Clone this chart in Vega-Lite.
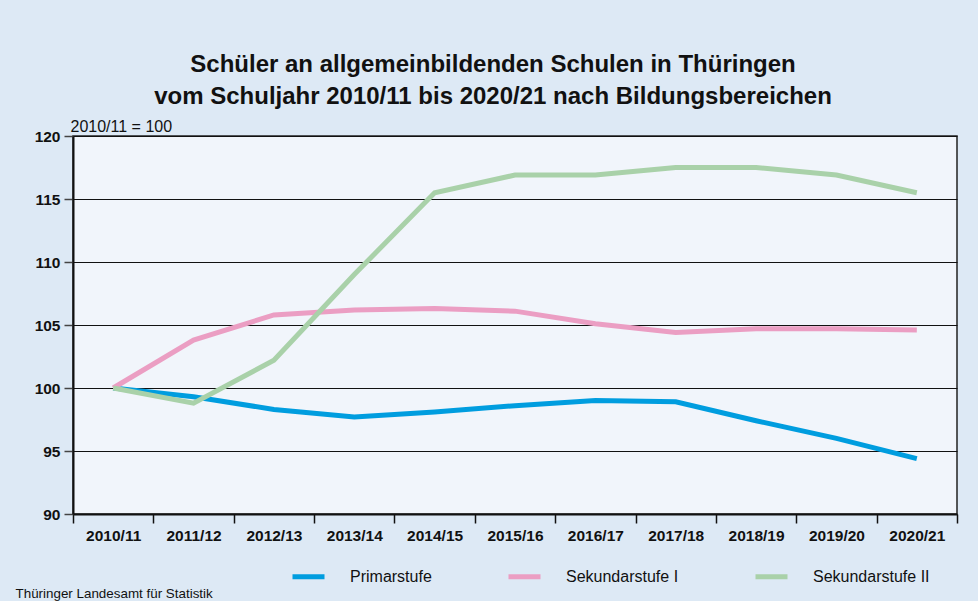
{
  "$schema": "https://vega.github.io/schema/vega-lite/v6.json",
  "width": 884,
  "height": 378,
  "autosize": {"type": "none"},
  "padding": {"left": 73, "top": 136, "right": 21, "bottom": 87},
  "background": "#dde9f5",
  "title": {
    "text": ["Schüler an allgemeinbildenden Schulen in Thüringen", "vom Schuljahr 2010/11 bis 2020/21 nach Bildungsbereichen"],
    "font": "Liberation Sans",
    "fontSize": 24,
    "fontWeight": "bold",
    "color": "#111111",
    "lineHeight": 32,
    "anchor": "middle",
    "dx": -22,
    "offset": 9
  },
  "config": {
    "view": {"fill": "#f1f5fb", "stroke": "#222222", "strokeWidth": 1.5},
    "font": "Liberation Sans"
  },
  "data": {
    "values": [
      {"jahr": "2010/11", "stufe": "Primarstufe", "wert": 100},
      {"jahr": "2011/12", "stufe": "Primarstufe", "wert": 99.3},
      {"jahr": "2012/13", "stufe": "Primarstufe", "wert": 98.3},
      {"jahr": "2013/14", "stufe": "Primarstufe", "wert": 97.7},
      {"jahr": "2014/15", "stufe": "Primarstufe", "wert": 98.1},
      {"jahr": "2015/16", "stufe": "Primarstufe", "wert": 98.6},
      {"jahr": "2016/17", "stufe": "Primarstufe", "wert": 99.0},
      {"jahr": "2017/18", "stufe": "Primarstufe", "wert": 98.9},
      {"jahr": "2018/19", "stufe": "Primarstufe", "wert": 97.4},
      {"jahr": "2019/20", "stufe": "Primarstufe", "wert": 96.0},
      {"jahr": "2020/21", "stufe": "Primarstufe", "wert": 94.4},
      {"jahr": "2010/11", "stufe": "Sekundarstufe I", "wert": 100},
      {"jahr": "2011/12", "stufe": "Sekundarstufe I", "wert": 103.8},
      {"jahr": "2012/13", "stufe": "Sekundarstufe I", "wert": 105.8},
      {"jahr": "2013/14", "stufe": "Sekundarstufe I", "wert": 106.2},
      {"jahr": "2014/15", "stufe": "Sekundarstufe I", "wert": 106.3},
      {"jahr": "2015/16", "stufe": "Sekundarstufe I", "wert": 106.1},
      {"jahr": "2016/17", "stufe": "Sekundarstufe I", "wert": 105.1},
      {"jahr": "2017/18", "stufe": "Sekundarstufe I", "wert": 104.4},
      {"jahr": "2018/19", "stufe": "Sekundarstufe I", "wert": 104.7},
      {"jahr": "2019/20", "stufe": "Sekundarstufe I", "wert": 104.7},
      {"jahr": "2020/21", "stufe": "Sekundarstufe I", "wert": 104.6},
      {"jahr": "2010/11", "stufe": "Sekundarstufe II", "wert": 100},
      {"jahr": "2011/12", "stufe": "Sekundarstufe II", "wert": 98.8},
      {"jahr": "2012/13", "stufe": "Sekundarstufe II", "wert": 102.2},
      {"jahr": "2013/14", "stufe": "Sekundarstufe II", "wert": 109.0},
      {"jahr": "2014/15", "stufe": "Sekundarstufe II", "wert": 115.5},
      {"jahr": "2015/16", "stufe": "Sekundarstufe II", "wert": 116.9},
      {"jahr": "2016/17", "stufe": "Sekundarstufe II", "wert": 116.9},
      {"jahr": "2017/18", "stufe": "Sekundarstufe II", "wert": 117.5},
      {"jahr": "2018/19", "stufe": "Sekundarstufe II", "wert": 117.5},
      {"jahr": "2019/20", "stufe": "Sekundarstufe II", "wert": 116.9},
      {"jahr": "2020/21", "stufe": "Sekundarstufe II", "wert": 115.5}
    ]
  },
  "mark": {"type": "line", "strokeWidth": 5, "strokeCap": "butt", "strokeJoin": "miter"},
  "encoding": {
    "x": {
      "field": "jahr",
      "type": "ordinal",
      "bandPosition": 0.5,
      "scale": {"type": "band", "paddingInner": 0, "paddingOuter": 0},
      "axis": {
        "title": "Thüringer Landesamt für Statistik",
        "titleFont": "Liberation Sans",
        "titleFontSize": 13.4,
        "titleFontWeight": "normal",
        "titleColor": "#111111",
        "titleAnchor": "start",
        "titleAlign": "left",
        "titleBaseline": "alphabetic",
        "titleX": -58,
        "titleY": 83,
        "labelAngle": 0,
        "labelFont": "Liberation Sans",
        "labelFontSize": 15.5,
        "labelFontWeight": "bold",
        "labelColor": "#111111",
        "labelPadding": 5,
        "tickBand": "extent",
        "tickSize": 9,
        "tickColor": "#111111",
        "tickWidth": 1.5,
        "domainColor": "#111111",
        "domainWidth": 2,
        "grid": false
      }
    },
    "y": {
      "field": "wert",
      "type": "quantitative",
      "scale": {"domain": [90, 120], "nice": false, "zero": false},
      "axis": {
        "values": [90, 95, 100, 105, 110, 115, 120],
        "title": "2010/11 = 100",
        "titleFont": "Liberation Sans",
        "titleFontSize": 16,
        "titleFontWeight": "normal",
        "titleColor": "#111111",
        "titleAngle": 0,
        "titleAlign": "left",
        "titleBaseline": "alphabetic",
        "titleX": -3,
        "titleY": -5,
        "labelFont": "Liberation Sans",
        "labelFontSize": 15.5,
        "labelFontWeight": "bold",
        "labelColor": "#111111",
        "labelPadding": 4,
        "tickSize": 9,
        "tickColor": "#444444",
        "tickWidth": 1.5,
        "domainColor": "#111111",
        "domainWidth": 2,
        "grid": true,
        "gridColor": "#111111",
        "gridWidth": 1,
        "gridOpacity": 1
      }
    },
    "color": {
      "field": "stufe",
      "type": "nominal",
      "scale": {
        "domain": ["Primarstufe", "Sekundarstufe I", "Sekundarstufe II"],
        "range": ["#009ddf", "#eb9ec3", "#a9d1a9"]
      },
      "legend": {
        "title": null,
        "orient": "none",
        "direction": "horizontal",
        "legendX": 217,
        "legendY": 422,
        "symbolType": "stroke",
        "symbolSize": 1024,
        "symbolStrokeWidth": 5,
        "labelOffset": 23,
        "labelFont": "Liberation Sans",
        "labelFontSize": 16,
        "labelColor": "#111111",
        "columnPadding": 66,
        "labelLimit": 300
      }
    }
  }
}
